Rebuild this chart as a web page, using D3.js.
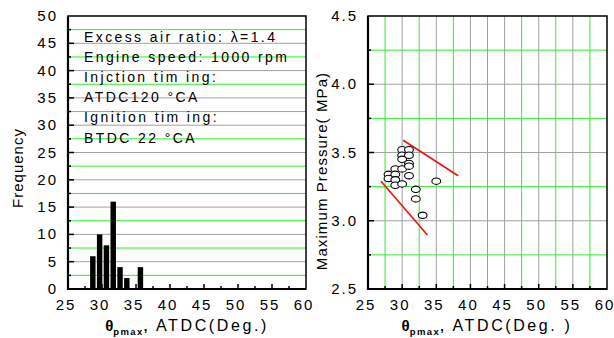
<!DOCTYPE html>
<html>
<head>
<meta charset="utf-8">
<script src="https://cdn.jsdelivr.net/npm/d3@7"></script>
<style>
  body { margin: 0; background: #fff; }
  svg text { font-family: Arial, "Liberation Sans", sans-serif; fill: #000; }
</style>
</head>
<body>
<div id="chart"></div>
<script>
// histogram (left panel)
let binStart = [28.25, 29.25, 30.25, 31.25, 32.25, 33.25, 35.25];
let binCount = [6, 10, 8, 16, 4, 2, 4];
let binWidth = 0.8;

// scatter (right panel)
let thetaVals = [28, 28, 29, 29, 29, 29, 30, 30, 30, 30, 30, 31, 31, 31, 31, 31, 32, 32, 33, 35];
let pmaxVals = [3.34, 3.31, 3.38, 3.34, 3.30, 3.26, 3.52, 3.48, 3.45, 3.38, 3.27, 3.52, 3.48, 3.42, 3.40, 3.33, 3.23, 3.16, 3.04, 3.29];

// red guide lines [x1, y1, x2, y2]
let upperLine = [30.15, 3.59, 38.2, 3.33];
let lowerLine = [26.9, 3.29, 33.7, 2.895];

let xTicks = [25, 30, 35, 40, 45, 50, 55, 60];
let freqTicks = [0, 5, 10, 15, 20, 25, 30, 35, 40, 45, 50];
let presTicks = [2.5, 3.0, 3.5, 4.0, 4.5];

let notes = ["Excess air ratio: \u03bb=1.4", "Engine speed: 1000 rpm", "Injction tim ing:",
  "ATDC120 \u00b0CA", "Ignition tim ing:", "BTDC 22 \u00b0CA"];

let width = 614;
let height = 338;
let plotTop = 16, plotBottom = 289;
let green = "#2cf02c", gray = "#a0a0a0";

let svg = d3.select("#chart").append("svg")
  .attr("width", width)
  .attr("height", height);

function panel(x0, x1, y) {
  let g = svg.append("g");
  let x = d3.scaleLinear().domain([25, 60]).range([x0, x1]);
  return {g: g, x: x, y: y};
}

// ---- left panel ----
let L = panel(68, 306, d3.scaleLinear().domain([0, 50]).range([plotBottom, plotTop]));

L.g.selectAll(".hgrid")
  .data(d3.range(2.5, 50, 2.5))
  .join("line")
  .attr("x1", 68).attr("x2", 306)
  .attr("y1", d => L.y(d)).attr("y2", d => L.y(d))
  .style("stroke", d => d % 5 == 0 ? gray : green)
  .style("stroke-width", 1);

L.g.selectAll(".bar")
  .data(binStart)
  .join("rect")
  .attr("x", d => L.x(d))
  .attr("width", d => L.x(d + binWidth) - L.x(d))
  .attr("y", (d, i) => L.y(binCount[i]))
  .attr("height", (d, i) => L.y(0) - L.y(binCount[i]))
  .style("fill", "#000");

// ---- right panel ----
let R = panel(368, 607, d3.scaleLinear().domain([2.5, 4.5]).range([plotBottom, plotTop]));

R.g.selectAll(".vgrid")
  .data(d3.range(27.5, 60, 2.5))
  .join("line")
  .attr("x1", d => R.x(d)).attr("x2", d => R.x(d))
  .attr("y1", plotTop).attr("y2", plotBottom)
  .style("stroke", d => d % 5 == 0 ? gray : green)
  .style("stroke-width", 1);

R.g.selectAll(".hgrid")
  .data(d3.range(2.75, 4.5, 0.25))
  .join("line")
  .attr("x1", 368).attr("x2", 607)
  .attr("y1", d => R.y(d)).attr("y2", d => R.y(d))
  .style("stroke", d => Math.abs(d * 2 - Math.round(d * 2)) < 0.01 ? gray : green)
  .style("stroke-width", 1);

[upperLine, lowerLine].forEach(function(l) {
  R.g.append("line")
    .attr("x1", R.x(l[0])).attr("y1", R.y(l[1]))
    .attr("x2", R.x(l[2])).attr("y2", R.y(l[3]))
    .style("stroke", "#ee1111")
    .style("stroke-width", 1.6);
});

R.g.selectAll(".pt")
  .data(thetaVals)
  .join("ellipse")
  .attr("cx", d => R.x(d))
  .attr("cy", (d, i) => R.y(pmaxVals[i]))
  .attr("rx", 4.4).attr("ry", 3.2)
  .style("fill", "#fff")
  .style("stroke", "#000")
  .style("stroke-width", 1.1);

// ---- axes, ticks, frames ----
function axes(P, yMajor, yMinor, yFmt) {
  let g = P.g;
  let x0 = P.x.range()[0], x1 = P.x.range()[1];
  // x ticks (inward)
  g.selectAll(".xmaj").data(xTicks.slice(1, -1)).join("line")
    .attr("x1", d => P.x(d)).attr("x2", d => P.x(d))
    .attr("y1", plotBottom).attr("y2", plotBottom - 5)
    .style("stroke", "#000").style("stroke-width", 1.5);
  g.selectAll(".xmin").data(d3.range(27.5, 60, 5)).join("line")
    .attr("x1", d => P.x(d)).attr("x2", d => P.x(d))
    .attr("y1", plotBottom).attr("y2", plotBottom - 3)
    .style("stroke", "#000").style("stroke-width", 1.5);
  // y ticks (inward)
  g.selectAll(".ymaj").data(yMajor.slice(1, -1)).join("line")
    .attr("x1", x0).attr("x2", x0 + 6)
    .attr("y1", d => P.y(d)).attr("y2", d => P.y(d))
    .style("stroke", "#000").style("stroke-width", 1.5);
  g.selectAll(".ymin").data(yMinor).join("line")
    .attr("x1", x0).attr("x2", x0 + 3)
    .attr("y1", d => P.y(d)).attr("y2", d => P.y(d))
    .style("stroke", "#000").style("stroke-width", 1.5);
  // frame
  g.append("rect")
    .attr("x", x0).attr("y", plotTop)
    .attr("width", x1 - x0).attr("height", plotBottom - plotTop)
    .style("fill", "none").style("stroke", "#000").style("stroke-width", 1.5);
  g.append("line").attr("x1", x0).attr("x2", x0).attr("y1", plotTop).attr("y2", plotBottom + 1)
    .style("stroke", "#000").style("stroke-width", 2.2);
  g.append("line").attr("x1", x0 - 1).attr("x2", x1).attr("y1", plotBottom).attr("y2", plotBottom)
    .style("stroke", "#000").style("stroke-width", 2.2);
  // labels
  g.selectAll(".xlab").data(xTicks).join("text")
    .attr("x", d => P.x(d) - 2).attr("y", 310)
    .attr("text-anchor", "middle")
    .style("font-size", "15px").style("letter-spacing", "2px")
    .text(d => d);
  g.selectAll(".ylab").data(yMajor).join("text")
    .attr("x", x0 - 10).attr("y", d => P.y(d) + 5)
    .attr("text-anchor", "end")
    .style("font-size", "15px").style("letter-spacing", "2px")
    .text(yFmt);
}

axes(L, freqTicks, d3.range(2.5, 50, 5), d => d);
axes(R, presTicks, d3.range(2.75, 4.5, 0.5), d => d.toFixed(1));

// annotation text in left panel
svg.selectAll(".note").data(notes).join("text")
  .attr("x", 84)
  .attr("y", (d, i) => 42 + i * 20.1)
  .style("font-size", "14px").style("letter-spacing", "2.4px")
  .text(d => d);

// x axis titles
function xTitle(cx, tail) {
  let t = svg.append("text")
    .attr("x", cx).attr("y", 331)
    .attr("text-anchor", "middle")
    .style("font-size", "16px").style("letter-spacing", "2.6px");
  t.append("tspan").style("font-weight", "bold").style("font-size", "15px").style("letter-spacing", "0px").text("\u03b8");
  t.append("tspan").attr("dy", 4).style("font-weight", "bold").style("font-size", "9.5px").style("letter-spacing", "1.4px").text("pmax");
  t.append("tspan").attr("dy", -4).style("font-weight", "bold").style("font-size", "13px").text(",");
  t.append("tspan").text(tail);
}
xTitle(187, " ATDC(Deg.)");
xTitle(487, " ATDC(Deg. )");

// y axis titles
svg.append("text")
  .attr("transform", "translate(23,168) rotate(-90)")
  .attr("text-anchor", "middle")
  .style("font-size", "15px").style("letter-spacing", "1px")
  .text("Frequency");
svg.append("text")
  .attr("transform", "translate(327,171) rotate(-90)")
  .attr("text-anchor", "middle")
  .style("font-size", "15px").style("letter-spacing", "1.1px")
  .text("Maximum Pressure( MPa)");
</script>
</body>
</html>
